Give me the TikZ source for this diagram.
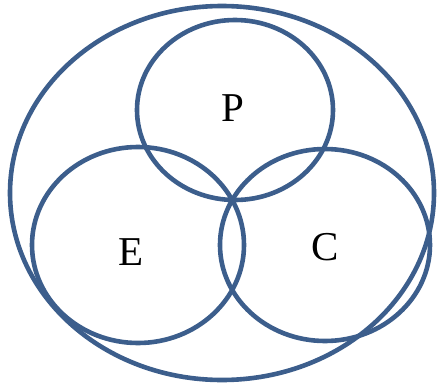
\documentclass[tikz,border=0pt]{standalone}
\usepackage{fontspec}
\setmainfont{Liberation Serif}
\definecolor{setblue}{RGB}{60,94,140}
\usetikzlibrary{shapes.geometric}

\begin{document}
\begin{tikzpicture}[x=1pt, y=-1pt,
      ring/.style={draw=setblue, ellipse, line width=4.6pt, inner sep=0pt},
      tag/.style={font=\fontsize{41}{41}\selectfont, inner sep=0pt}
    ]
    \useasboundingbox (0,0) rectangle (442,388);
    % outer set and the three inner sets
    \node[ring, minimum width=424pt, minimum height=374pt] (all) at (222,193) {};
    \node[ring, minimum width=196pt, minimum height=180pt] (p) at (235,110) {};
    \node[ring, minimum width=212pt, minimum height=196pt] (e) at (138,245) {};
    \node[ring, minimum width=210pt, minimum height=192pt] (c) at (325,245) {};

    \node[tag] (lp) at (233,108) {P};
    \node[tag] (le) at (131,252) {E};
    \node[tag] (lc) at (325,247) {C};
  \end{tikzpicture}
\end{document}
